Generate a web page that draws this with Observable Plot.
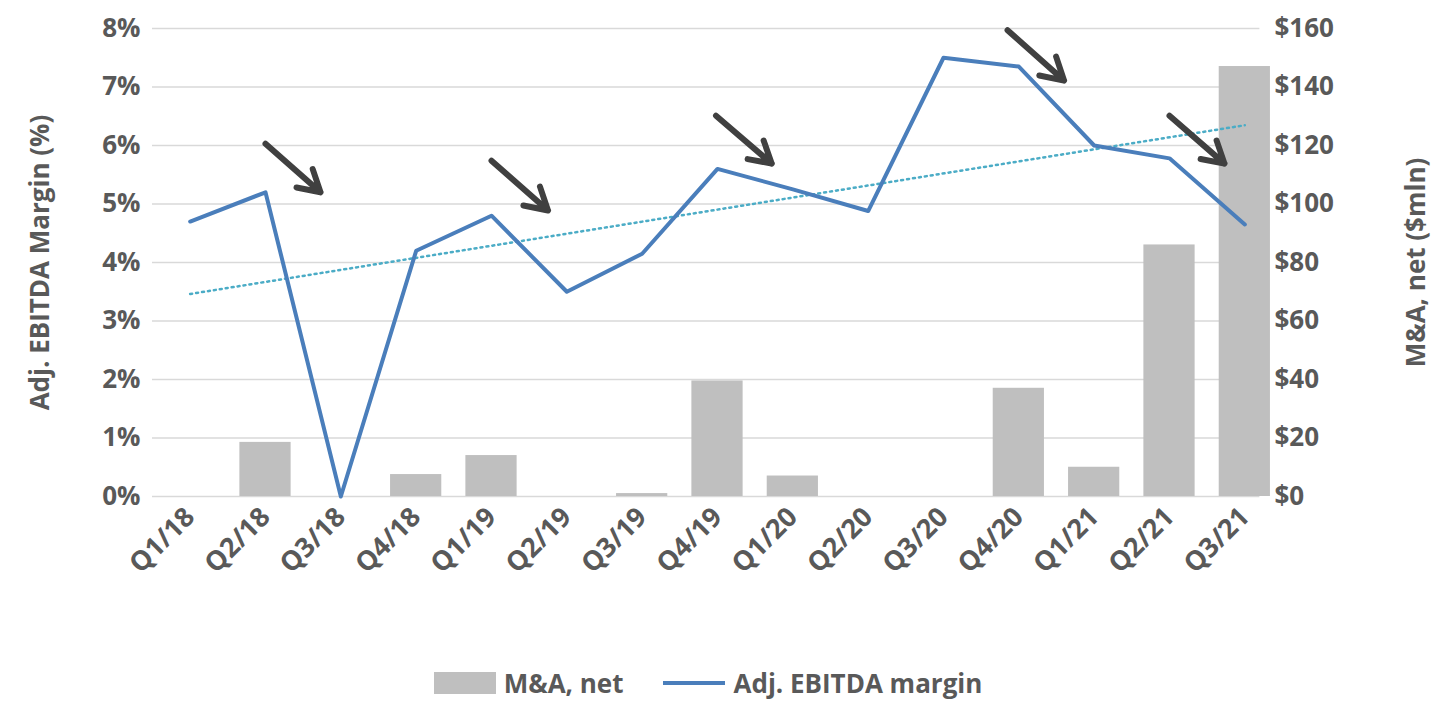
<!DOCTYPE html>
<html><head><meta charset="utf-8">
<script src="https://cdn.jsdelivr.net/npm/d3@7"></script>
<script src="https://cdn.jsdelivr.net/npm/@observablehq/plot@0.6"></script>
<style>
body{margin:0;background:#fff;font-family:"Open Sans",Arial,sans-serif;}
#legend{display:flex;justify-content:center;gap:40px;font:bold 26px "Open Sans",Arial,sans-serif;color:#595959;margin-top:40px;margin-left:-40px}
#legend span{display:inline-flex;align-items:center;gap:8px}
</style></head><body>
<div id="chart"></div>
<div id="legend"><span><i style="display:inline-block;width:62px;height:22px;background:#bfbfbf"></i>M&amp;A, net</span><span><i style="display:inline-block;width:62px;height:4px;background:#4a7ebb"></i>Adj. EBITDA margin</span></div>
<script>
const quarters = ["Q1/18","Q2/18","Q3/18","Q4/18","Q1/19","Q2/19","Q3/19","Q4/19","Q1/20","Q2/20","Q3/20","Q4/20","Q1/21","Q2/21","Q3/21"];
const mna = [0,18.5,0,7.5,14,0,1,39.5,7,0,0,37,10,86,147];
const margin = [4.7,5.2,0,4.2,4.8,3.5,4.15,5.6,5.25,4.88,7.5,7.35,6.0,5.78,4.65];
const leftTicks = [0,1,2,3,4,5,6,7,8];
const rightTicks = [0,20,40,60,80,100,120,140,160];
const arrows = [
 {x1:1,y1:6.03,x2:1.73,y2:5.2},
 {x1:4.0,y1:5.74,x2:4.75,y2:4.89},
 {x1:6.98,y1:6.51,x2:7.72,y2:5.69},
 {x1:10.85,y1:7.97,x2:11.6,y2:7.11},
 {x1:13.0,y1:6.51,x2:13.73,y2:5.69}
];
const data = quarters.map((q,i)=>({i,q,mna:mna[i],margin:margin[i]}));
const grey="#595959";
const chart = Plot.plot({
  width:1456, height:625,
  marginLeft:152, marginRight:174, marginTop:28, marginBottom:129,
  style:{fontFamily:"'Open Sans',Arial,sans-serif",fontSize:"26px",fontWeight:"bold",color:grey},
  x:{domain:[-0.5,14.5]},
  y:{domain:[0,8]},
  marks:[
    Plot.ruleY(leftTicks,{x1:-0.5,x2:14.2,stroke:"#d9d9d9",strokeWidth:1.5}),
    Plot.rectY(data,{x1:d=>d.i-0.34,x2:d=>d.i+0.34,y:d=>d.mna/20,fill:"#bfbfbf"}),
    Plot.linearRegressionY(data,{x:"i",y:"margin",ci:0,stroke:"#4bacc6",strokeWidth:2.5,strokeDasharray:"2,4"}),
    Plot.line(data,{x:"i",y:"margin",stroke:"#4a7ebb",strokeWidth:4}),
    Plot.arrow(arrows,{x1:"x1",y1:"y1",x2:"x2",y2:"y2",stroke:"#404040",strokeWidth:6,headLength:22}),
    Plot.axisY(leftTicks,{anchor:"left",tickSize:0,tickPadding:12,tickFormat:d=>d+"%",label:null}),
    Plot.axisY(leftTicks,{anchor:"right",tickSize:0,tickPadding:-8,tickFormat:(d,k)=>"$"+rightTicks[k],label:null}),
    Plot.axisX(d3.range(15),{tickSize:0,tickRotate:-45,tickPadding:16,fontSize:27,tickFormat:i=>quarters[i],label:null}),
    Plot.text(["Adj. EBITDA Margin (%)"],{frameAnchor:"left",textAnchor:"middle",dx:-112,rotate:-90,fontSize:26,fontWeight:"bold",fill:grey}),
    Plot.text(["M&A, net ($mln)"],{frameAnchor:"right",textAnchor:"middle",dx:134,rotate:-90,fontSize:26,fontWeight:"bold",fill:grey})
  ]
});
document.getElementById("chart").append(chart);
</script></body></html>
